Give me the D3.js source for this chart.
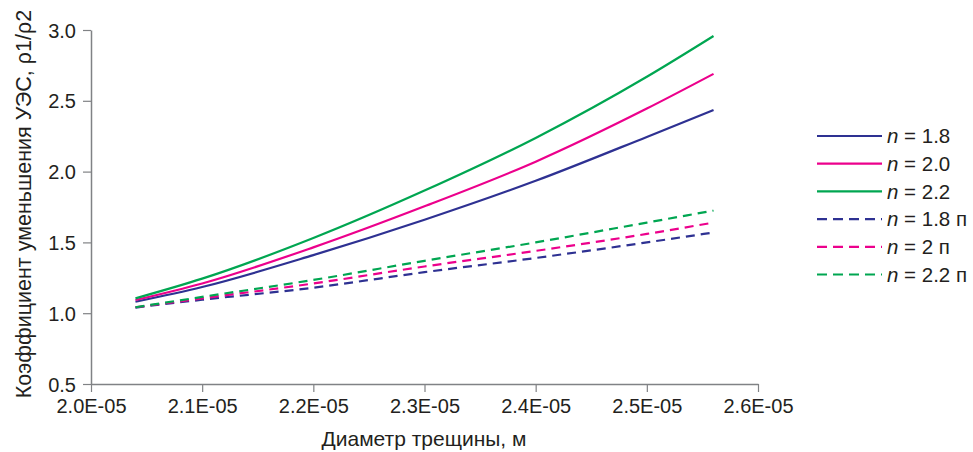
<!DOCTYPE html>
<html>
<head>
<meta charset="utf-8">
<script src="https://cdn.jsdelivr.net/npm/d3@7"></script>
<style>
  body { margin: 0; background: #fff; }
  text { font-family: "Liberation Sans", Arial, sans-serif; }
</style>
</head>
<body>
<div id="vis-container"></div>
<script>
// crack diameter, m
var diameters = [2.04e-5, 2.1e-5, 2.2e-5, 2.3e-5, 2.4e-5, 2.5e-5, 2.56e-5];

// reduction coefficient values per series
var n18 = [1.081, 1.185, 1.41, 1.66, 1.935, 2.245, 2.435];
var n20 = [1.093, 1.21, 1.465, 1.755, 2.07, 2.445, 2.69];
var n22 = [1.105, 1.244, 1.531, 1.866, 2.238, 2.67, 2.958];
var n18p = [1.04, 1.095, 1.18, 1.29, 1.39, 1.50, 1.57];
var n2p = [1.042, 1.105, 1.21, 1.33, 1.44, 1.56, 1.64];
var n22p = [1.042, 1.115, 1.235, 1.37, 1.50, 1.64, 1.725];

var seriesNames = ["1.8", "2.0", "2.2", "1.8 п", "2 п", "2.2 п"];
var seriesValues = [n18, n20, n22, n18p, n2p, n22p];
var seriesColors = ["#2e3192", "#ec008c", "#00a651", "#2e3192", "#ec008c", "#00a651"];
var seriesDashed = [false, false, false, true, true, true];

var xTicks = [2.0e-5, 2.1e-5, 2.2e-5, 2.3e-5, 2.4e-5, 2.5e-5, 2.6e-5];
var yTicks = [0.5, 1.0, 1.5, 2.0, 2.5, 3.0];

var width = 973, height = 452;
var plotLeft = 91, plotRight = 758, plotTop = 30, plotBottom = 384;
var axisColor = "#808285";
var textColor = "#231f20";

var svg = d3.select("#vis-container")
  .append("svg")
  .attr("width", width)
  .attr("height", height);

var x = d3.scaleLinear().domain([2.0e-5, 2.6e-5]).range([plotLeft, plotRight]);
var y = d3.scaleLinear().domain([0.5, 3.0]).range([plotBottom, plotTop]);

// axes
var xAxis = d3.axisBottom(x)
  .tickValues(xTicks)
  .tickSize(8)
  .tickSizeOuter(0)
  .tickPadding(6)
  .tickFormat(function(d) { return (d * 1e5).toFixed(1) + "E-05"; });

var yAxis = d3.axisLeft(y)
  .tickValues(yTicks)
  .tickSize(8)
  .tickSizeOuter(0)
  .tickPadding(7)
  .tickFormat(d3.format(".1f"));

var gx = svg.append("g")
  .attr("transform", "translate(0," + plotBottom + ")")
  .call(xAxis);
var gy = svg.append("g")
  .attr("transform", "translate(" + plotLeft + ",0)")
  .call(yAxis);

[gx, gy].forEach(function(g) {
  g.select(".domain").attr("stroke", axisColor).attr("stroke-width", 1.5);
  g.selectAll(".tick line").attr("stroke", axisColor).attr("stroke-width", 1.2);
  g.selectAll(".tick text")
    .attr("fill", textColor)
    .style("font-size", "20px")
    .style("font-family", "'Liberation Sans', Arial, sans-serif");
});
gx.selectAll(".tick text").attr("dy", "0.75em");
gy.selectAll(".tick text").attr("dy", "0.35em");

// axis titles
svg.append("text")
  .attr("x", 424)
  .attr("y", 446)
  .attr("text-anchor", "middle")
  .attr("fill", textColor)
  .style("font-size", "21px")
  .text("Диаметр трещины, м");

svg.append("text")
  .attr("transform", "translate(31,204) rotate(-90)")
  .attr("text-anchor", "middle")
  .attr("fill", textColor)
  .style("font-size", "21.5px")
  .text("Коэффициент уменьшения УЭС, ρ1/ρ2");

// lines
var line = d3.line()
  .x(function(d, i) { return x(diameters[i]); })
  .y(function(d) { return y(d); })
  .curve(d3.curveMonotoneX);

for (var s = 0; s < seriesValues.length; ++s) {
  svg.append("path")
    .attr("d", line(seriesValues[s]))
    .attr("fill", "none")
    .attr("stroke", seriesColors[s])
    .attr("stroke-width", 2.2)
    .attr("stroke-dasharray", seriesDashed[s] ? "9,6" : null);
}

// legend
var legend = svg.append("g").attr("transform", "translate(817,136)");
for (var k = 0; k < seriesNames.length; ++k) {
  var row = legend.append("g").attr("transform", "translate(0," + (k * 27.7) + ")");
  row.append("line")
    .attr("x1", 0).attr("x2", 65)
    .attr("y1", 0).attr("y2", 0)
    .attr("stroke", seriesColors[k])
    .attr("stroke-width", 2.2)
    .attr("stroke-dasharray", seriesDashed[k] ? "10,6" : null);
  var t = row.append("text")
    .attr("x", 70)
    .attr("y", 0)
    .attr("dy", "0.35em")
    .attr("fill", textColor)
    .style("font-size", "20.5px");
  t.append("tspan").style("font-style", "italic").text("n");
  t.append("tspan").text(" = " + seriesNames[k]);
}
</script>
</body>
</html>
